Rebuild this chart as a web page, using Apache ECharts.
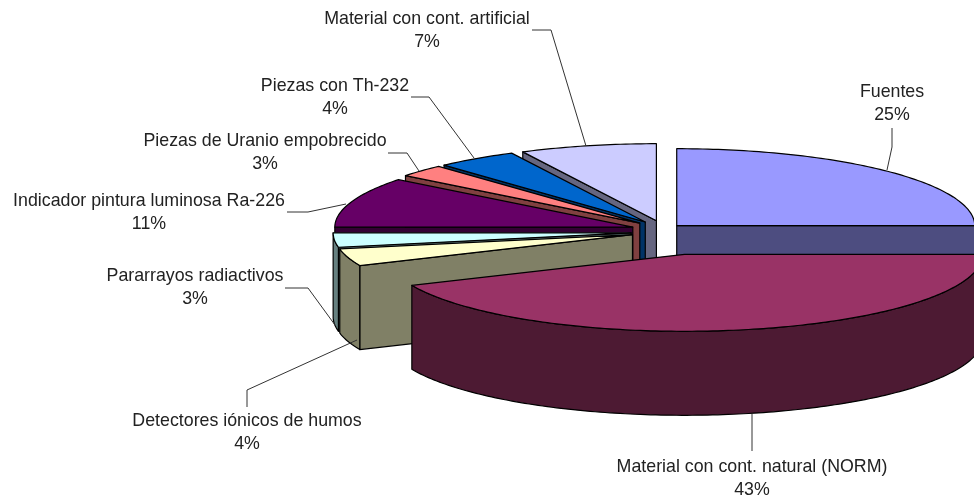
<!DOCTYPE html>
<html>
<head>
<meta charset="utf-8">
<style>
  html, body { margin: 0; padding: 0; background: #fff; }
  #chart { width: 974px; height: 503px; }
</style>
<script src="https://cdn.jsdelivr.net/npm/echarts@6/dist/echarts.min.js"></script>
</head>
<body>
<div id="chart"></div>
<script>
// slices, clockwise from 12 o'clock
const categories = [
  'Fuentes',
  'Material con cont. natural (NORM)',
  'Detectores iónicos de humos',
  'Pararrayos radiactivos',
  'Indicador pintura luminosa Ra-226',
  'Piezas de Uranio empobrecido',
  'Piezas con Th-232',
  'Material con cont. artificial'
]
const shares = [25, 43.4, 3.6, 3, 10.6, 2.6, 4.4, 7.4]

const colors = ['#9999FF', '#993366', '#FFFFCC', '#CCFFFF', '#660066', '#FF8080', '#0066CC', '#CCCCFF']
// how far each slice is pulled out of the pie
const explode = [18, 100, 33, 33, 33, 33, 33, 33]
// small extra vertical drop per slice
const sag = [0, 0, 3, 3, 1, 0, 0, 0]
// back to front
const drawOrder = [7, 6, 5, 4, 3, 2, 0, 1]

const pie = { x: 664, y: 229, rx: 298, ry: 77, depth: 84 }
const total = shares.reduce((a, b) => a + b, 0)

// label centre and the leader line that goes with it
const labelLayout = [
  { x: 892, y: 103.5, line: [[892, 128], [892, 147], [887, 170]] },
  { x: 752, y: 479, line: [[752, 414], [752, 451]] },
  { x: 247, y: 433, line: [[247, 407], [247, 390], [357, 340]] },
  { x: 195, y: 288, line: [[285, 288], [308, 288], [335, 325]] },
  { x: 149, y: 213, line: [[287, 212], [308, 212], [346, 204]] },
  { x: 265, y: 153, line: [[388, 153], [407, 153], [419, 171]] },
  { x: 335, y: 98, line: [[411, 97], [429, 97], [474, 158]] },
  { x: 427, y: 31, line: [[532, 30], [551, 30], [586, 146]] }
]

function darken(hex) {
  const n = parseInt(hex.slice(1), 16)
  const c = [n >> 16, (n >> 8) & 255, n & 255].map(v => Math.round(v / 2))
  return 'rgb(' + c.join(',') + ')'
}

function renderSlice(params, api) {
  const i = params.dataIndex
  const share = api.value(0)
  const before = shares.slice(0, i).reduce((a, b) => a + b, 0)
  const a0 = before / total * 360
  const a1 = (before + share) / total * 360
  const mid = (a0 + a1) / 2 * Math.PI / 180
  const k = pie.ry / pie.rx
  const cx = pie.x + explode[i] * Math.sin(mid)
  const cy = pie.y - explode[i] * k * Math.cos(mid) + sag[i]
  const pt = (deg, drop) => {
    const r = deg * Math.PI / 180
    return [cx + pie.rx * Math.sin(r), cy - pie.ry * Math.cos(r) + drop]
  }
  const arc = (from, to, drop) => {
    const out = []
    const n = Math.max(2, Math.ceil(to - from))
    for (let j = 0; j <= n; j++) out.push(pt(from + (to - from) * j / n, drop))
    return out
  }
  const z = drawOrder.indexOf(i) * 10
  const fill = colors[i]
  const wall = darken(fill)
  const line = { stroke: '#000', lineWidth: 1.2, lineJoin: 'round' }
  const poly = (points, color, z2) => ({
    type: 'polygon',
    z2: z + z2,
    shape: { points: points },
    style: Object.assign({ fill: color }, line)
  })
  const children = []
  const d = pie.depth
  // cut faces, skip the ones turned away from the viewer
  if (Math.sin(a0 * Math.PI / 180) < -1e-6) {
    children.push(poly([[cx, cy], pt(a0, 0), pt(a0, d), [cx, cy + d]], wall, 1))
  }
  if (Math.sin(a1 * Math.PI / 180) > 1e-6) {
    children.push(poly([[cx, cy], pt(a1, 0), pt(a1, d), [cx, cy + d]], wall, 1))
  }
  // rim, only the part facing the viewer
  const f0 = Math.max(a0, 90)
  const f1 = Math.min(a1, 270)
  if (f1 > f0) {
    children.push(poly(arc(f0, f1, 0).concat(arc(f0, f1, d).reverse()), wall, 2))
  }
  // top face
  children.push(poly([[cx, cy]].concat(arc(a0, a1, 0)), fill, 3))

  // label and leader
  const lab = labelLayout[i]
  children.push({
    type: 'polyline',
    z2: 200,
    shape: { points: lab.line },
    style: { fill: 'none', stroke: '#333', lineWidth: 1 }
  })
  children.push({
    type: 'text',
    z2: 201,
    style: {
      x: lab.x,
      y: lab.y,
      text: categories[i] + '\n' + Math.round(share) + '%',
      align: 'center',
      verticalAlign: 'middle',
      font: '17.8px "Liberation Sans"',
      lineHeight: 23,
      fill: '#222'
    }
  })
  return { type: 'group', children: children }
}

const chart = echarts.init(document.getElementById('chart'), null, { renderer: 'canvas' })
chart.setOption({
  animation: false,
  backgroundColor: '#fff',
  series: [{
    type: 'custom',
    coordinateSystem: 'none',
    silent: true,
    renderItem: renderSlice,
    data: shares.map((v, i) => [v, i])
  }]
})
</script>
</body>
</html>
